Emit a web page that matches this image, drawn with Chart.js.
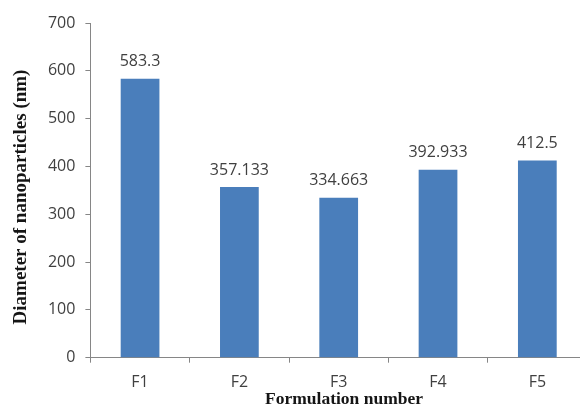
<!DOCTYPE html>
<html>
<head>
<meta charset="utf-8">
<script src="https://cdn.jsdelivr.net/npm/chart.js@4/dist/chart.umd.min.js"></script>
<style>
  html, body { margin: 0; padding: 0; background: #fff; overflow: hidden; }
  #wrap { width: 592px; height: 410px; }
</style>
</head>
<body>
<div id="wrap"><canvas id="c" width="592" height="410"></canvas></div>
<script>
// Mean particle diameter for each formulation
const categories = ['F1', 'F2', 'F3', 'F4', 'F5'];
const diameters = [583.3, 357.133, 334.663, 392.933, 412.5];
const valueLabels = ['583.3', '357.133', '334.663', '392.933', '412.5'];
const yTicks = [0, 100, 200, 300, 400, 500, 600, 700];
const xTitle = 'Formulation number';
const yTitle = 'Diameter of nanoparticles (nm)';

const axisGrey = '#868686';
const textGrey = '#404040';
const titleFont = '"Liberation Serif", "Times New Roman", serif';

// Writes each bar's value just above its top
const barValueLabels = {
  id: 'barValueLabels',
  afterDatasetsDraw(chart) {
    const ctx = chart.ctx;
    const meta = chart.getDatasetMeta(0);
    ctx.save();
    ctx.font = '16px "Open Sans", sans-serif';
    ctx.fillStyle = textGrey;
    ctx.textAlign = 'center';
    ctx.textBaseline = 'middle';
    meta.data.forEach((bar, i) => {
      ctx.fillText(valueLabels[i], bar.x, bar.y - 17);
    });
    ctx.restore();
  }
};

// Axis titles in a serif face, placed beside the axes
const axisTitles = {
  id: 'axisTitles',
  afterDraw(chart) {
    const ctx = chart.ctx;
    ctx.save();
    ctx.fillStyle = '#151515';
    ctx.textAlign = 'center';
    ctx.textBaseline = 'middle';
    ctx.font = 'bold 17.5px ' + titleFont;
    ctx.fillText(xTitle, 344, 399);
    ctx.translate(21, 197);
    ctx.rotate(-Math.PI / 2);
    ctx.font = 'bold 19px ' + titleFont;
    ctx.fillText(yTitle, 0, 0);
    ctx.restore();
  }
};

new Chart(document.getElementById('c'), {
  type: 'bar',
  data: {
    labels: categories,
    datasets: [{
      data: diameters,
      backgroundColor: '#4a7ebb',
      borderWidth: 0,
      categoryPercentage: 1.0,
      barPercentage: 0.39
    }]
  },
  options: {
    responsive: false,
    animation: false,
    layout: { padding: { top: 23, right: 5, bottom: 0, left: 0 } },
    plugins: {
      legend: { display: false },
      tooltip: { enabled: false }
    },
    scales: {
      x: {
        grid: {
          display: true,
          drawOnChartArea: false,
          drawTicks: true,
          tickLength: 5,
          color: axisGrey,
          offset: true
        },
        border: { display: true, color: axisGrey, width: 1 },
        ticks: {
          color: textGrey,
          font: { family: '"Open Sans", sans-serif', size: 16 },
          padding: 10
        },
        afterFit(scale) { scale.height = 52.3; }
      },
      y: {
        min: 0,
        max: 700,
        afterBuildTicks(scale) { scale.ticks = yTicks.map(v => ({ value: v })); },
        grid: {
          display: true,
          drawOnChartArea: false,
          drawTicks: true,
          tickLength: 5,
          color: axisGrey
        },
        border: { display: true, color: axisGrey, width: 1 },
        ticks: {
          color: textGrey,
          font: { family: '"Open Sans", sans-serif', size: 16 },
          padding: 10
        },
        afterFit(scale) { scale.width = 90.4; }
      }
    }
  },
  plugins: [barValueLabels, axisTitles]
});
</script>
</body>
</html>
